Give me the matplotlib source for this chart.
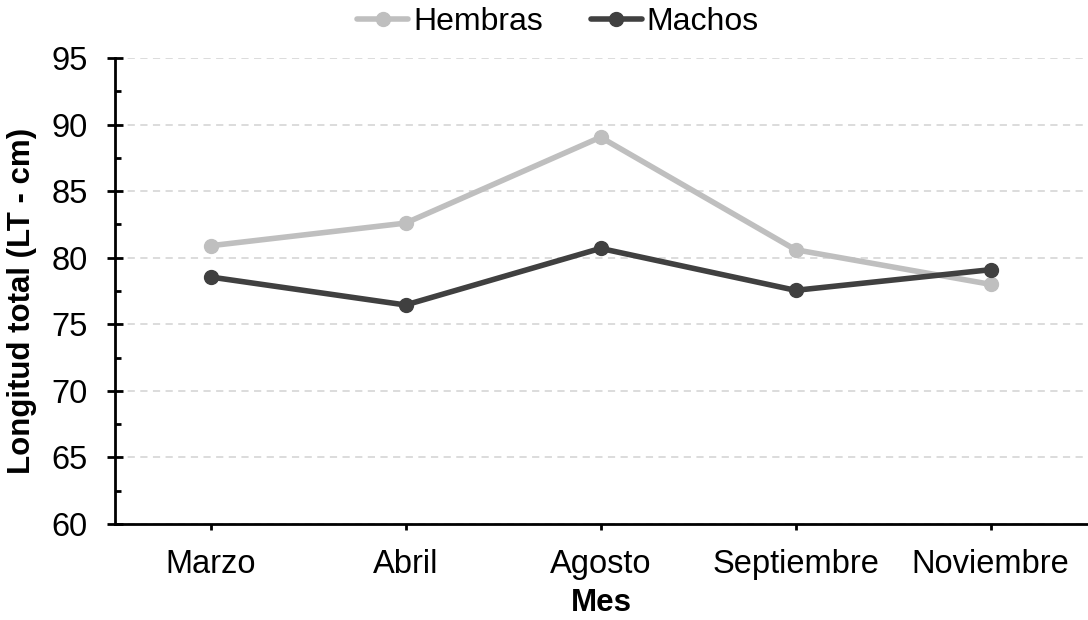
import matplotlib
matplotlib.use("Agg")
import matplotlib.pyplot as plt
import numpy as np
from matplotlib.ticker import MultipleLocator

plt.rcParams['font.family'] = ['Liberation Sans', 'DejaVu Sans']

meses = ["Marzo", "Abril", "Agosto", "Septiembre", "Noviembre"]
hembras = [80.9, 82.6, 89.05, 80.6, 78.0]
machos = [78.55, 76.45, 80.7, 77.55, 79.1]

fig = plt.figure(figsize=(10.88, 6.2), dpi=100)
ax = fig.add_axes([115 / 1088, 96 / 620, (1088 - 115) / 1088, 466 / 620])

x = np.arange(len(meses))
ax.plot(x, hembras, color="#BFBFBF", lw=4, marker="o", ms=10, label="Hembras",
        solid_capstyle="round", zorder=3)
ax.plot(x, machos, color="#404040", lw=4, marker="o", ms=10, label="Machos",
        solid_capstyle="round", zorder=4)

ax.set_xlim(-0.49, 4.5)
ax.set_ylim(60, 95)
ax.set_xticks(x)
ax.set_xticklabels(meses)
ax.yaxis.set_major_locator(MultipleLocator(5))
ax.yaxis.set_minor_locator(MultipleLocator(2.5))
ax.grid(axis="y", which="major", color="#D9D9D9", ls=(0, (4, 3)), lw=1.3)
ax.set_axisbelow(True)

for s in ["top", "right"]:
    ax.spines[s].set_visible(False)
for s in ["left", "bottom"]:
    ax.spines[s].set_linewidth(2)

ax.tick_params(axis="y", which="major", direction="inout", length=11, width=2,
               labelsize=23.5, pad=14)
ax.tick_params(axis="y", which="minor", direction="in", length=4, width=2)
ax.tick_params(axis="x", which="major", direction="out", length=4, width=2,
               labelsize=23.5, pad=14)

ax.set_ylabel("Longitud total (LT - cm)", fontsize=22.5, fontweight="bold")
ax.yaxis.set_label_coords(-78 / 973, 0.478)
ax.set_xlabel("Mes", fontsize=22.5, fontweight="bold", labelpad=6)

fig.legend(loc="center", bbox_to_anchor=(558 / 1088, 1 - 22 / 620), ncol=2,
           frameon=False, fontsize=23, handlelength=1.6, handletextpad=0.15,
           columnspacing=1.5, borderaxespad=0)

fig.savefig("out.png", dpi=100)
